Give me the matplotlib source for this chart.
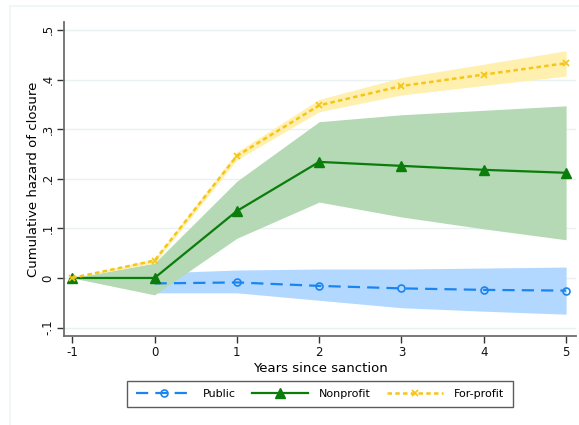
import matplotlib
matplotlib.use("Agg")
import matplotlib.pyplot as plt
from matplotlib.patches import Rectangle

years = [-1, 0, 1, 2, 3, 4, 5]

public_years = [0, 1, 2, 3, 4, 5]
public = [-0.011, -0.009, -0.016, -0.021, -0.024, -0.0255]
public_lo = [-0.030, -0.030, -0.045, -0.060, -0.067, -0.073]
public_hi = [0.010, 0.016, 0.018, 0.018, 0.020, 0.022]

nonprofit = [0.0, 0.0, 0.135, 0.234, 0.226, 0.218, 0.212]
nonprofit_lo = [0.0, -0.034, 0.080, 0.153, 0.123, 0.099, 0.077]
nonprofit_hi = [0.0, 0.030, 0.195, 0.315, 0.329, 0.338, 0.347]

forprofit = [0.0, 0.035, 0.246, 0.348, 0.387, 0.410, 0.433]
forprofit_lo = [0.0, 0.030, 0.238, 0.335, 0.369, 0.388, 0.407]
forprofit_hi = [0.0, 0.039, 0.254, 0.360, 0.404, 0.431, 0.458]

yticks = [-0.1, 0, 0.1, 0.2, 0.3, 0.4, 0.5]
ytick_labels = ["-.1", "0", ".1", ".2", ".3", ".4", ".5"]

c_pub = "#1a84f0"
c_non = "#0a7d0a"
c_for = "#f5c518"

fig = plt.figure(figsize=(5.79, 4.25), dpi=100)
fig.patch.set_facecolor("white")
fig.patches.append(Rectangle((10/579, -0.05), 1.2, (425-6)/425 + 0.05, transform=fig.transFigure,
                             fill=False, edgecolor="#eef3f3", linewidth=1.2))
ax = fig.add_axes([64/579, (425-336)/425, (576-64)/579, (336-22)/425])

ax.fill_between(public_years, public_lo, public_hi, color="#b3d8ff", linewidth=0, zorder=1)
ax.fill_between(years, nonprofit_lo, nonprofit_hi, color="#b4d9b4", linewidth=0, zorder=1)
ax.fill_between(years, forprofit_lo, forprofit_hi, color="#fff0b0", linewidth=0, zorder=1)

ax.plot(public_years, public, color=c_pub, linestyle=(0, (5.5, 3.2)), linewidth=1.6, marker="o",
        markersize=5, markerfacecolor="none", markeredgecolor=c_pub, markeredgewidth=1.2,
        markevery=list(range(1, len(public_years))), label="Public", zorder=3)
ax.plot(years, nonprofit, color=c_non, linestyle="-", linewidth=1.6, marker="^",
        markersize=6.5, markerfacecolor=c_non, markeredgecolor=c_non, label="Nonprofit", zorder=3)
ax.plot(years, forprofit, color=c_for, linestyle=(0, (1.8, 1.3)), linewidth=1.8, marker="x",
        markersize=4.5, markeredgewidth=1.2, label="For-profit", zorder=4)

ax.set_xlim(-1.1, 5.12)
ax.set_ylim(-0.117, 0.516)
ax.set_xticks(years)
ax.set_xticklabels([str(y) for y in years])
ax.set_yticks(yticks)
ax.set_yticklabels(ytick_labels, rotation=90, va="center")
ax.grid(axis="y", color="#eaf1f2", linewidth=1.0)
ax.set_axisbelow(True)
for s in ["top", "right"]:
    ax.spines[s].set_visible(False)
for s in ["left", "bottom"]:
    ax.spines[s].set_color("#6e6e6e")
    ax.spines[s].set_linewidth(1.3)
ax.tick_params(axis="both", color="#333333", length=5, width=1, labelsize=8.5,
               labelcolor="#111111", pad=2)
ax.set_xlabel("Years since sanction", fontsize=9.5, labelpad=2)
ax.set_ylabel("Cumulative hazard of closure", fontsize=9.5, labelpad=1)

leg = ax.legend(loc="upper center", bbox_to_anchor=(0.5, -0.125), ncol=3, frameon=True,
                fancybox=False, edgecolor="#333333", fontsize=8, handlelength=5,
                columnspacing=1.5, handletextpad=1.0, borderpad=0.75)
leg.get_frame().set_linewidth(1.0)

fig.savefig("out.png", dpi=100, facecolor="white")
